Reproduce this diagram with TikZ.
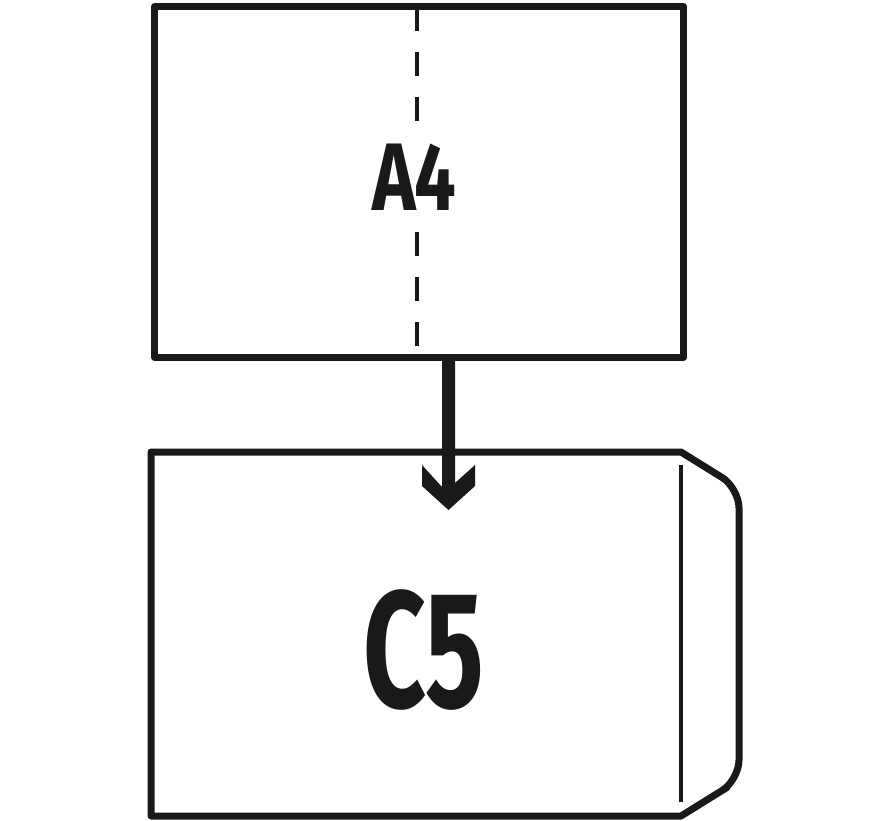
\documentclass[tikz,border=0pt]{standalone}
\usepackage{fontspec}
\setmainfont{Fira Sans}
\usetikzlibrary{calc}
\begin{document}
\begin{tikzpicture}[x=1pt,y=-1pt,
  frame/.style={draw=black!90, line width=7pt, line join=round},
  fold/.style={draw=black!90, line width=3.5pt, dash pattern=on 24pt off 21pt},
  flapline/.style={draw=black!90, line width=4.5pt},
  label/.style={inner sep=0pt, fill=white, text=black!90},
  arrowfill/.style={fill=black!90, draw=none}]
\useasboundingbox (0,0) rectangle (890,820);
\fill[white] (0,0) rectangle (890,820);
% A4 sheet
\node[frame, minimum width=529pt, minimum height=351pt, inner sep=0pt, anchor=north west] (a4box) at (151,3) {};
\coordinate (foldtop) at (417,7);
\coordinate (foldbot) at (417,353);
\draw[fold] (foldtop) -- (foldbot);
\node[label, font=\bfseries\fontsize{96}{96}\selectfont, xscale=0.77, minimum width=118pt, minimum height=80pt] (a4) at (414,177) {A4};
% C5 envelope
\coordinate (e1) at (151,452);
\coordinate (e2) at (681,452);
\coordinate (e3) at (739,488);
\coordinate (e4) at (739,780);
\coordinate (e5) at (681,816);
\coordinate (e6) at (151,816);
\draw[frame] (e6) -- (e1) -- (e2) -- ($(e2)!0.5!(e3)$) [rounded corners=20pt] -- (e3) -- (e4) -- ($(e4)!0.5!(e5)$) [sharp corners] -- (e5) -- cycle;
\coordinate (flaptop) at (681,465);
\coordinate (flapbot) at (681,802);
\draw[flapline] (flaptop) -- (flapbot);
\node[inner sep=0pt, text=black!90, font=\bfseries\fontsize{166}{166}\selectfont, xscale=0.66] (c5) at (424,650) {C5};
% arrow from A4 to C5
\coordinate (tip) at (448.5,510);
\fill[arrowfill] (a4box.south -| tip) ++(-6.5,0) -- ++(0,126) -- (422,465) -- (422,486) -- (tip) -- (475,486) -- (475,465) -- (455,483) -- (455,357) -- cycle;
\end{tikzpicture}
\end{document}
